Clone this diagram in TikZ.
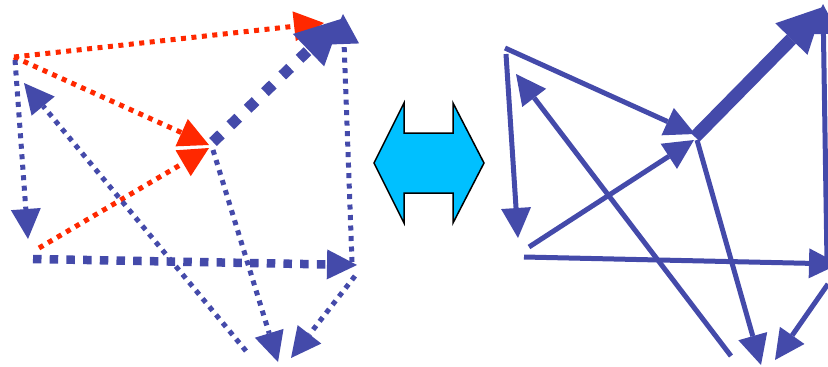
\documentclass[tikz,border=0pt]{standalone}
\usetikzlibrary{arrows.meta}
\definecolor{eblue}{RGB}{68,74,170}
\definecolor{ered}{RGB}{255,40,0}
\definecolor{ecyan}{RGB}{0,192,255}
\tikzset{
  tipn/.style={-{Triangle[length=30pt,width=30pt,line width=0pt]}},
  tipbig/.style={-{Triangle[length=45pt,width=45pt,line width=0pt]}},
  reddot/.style={ered,line width=5pt,line cap=butt,dash pattern=on 5pt off 5.5pt,tipn},
  bluedot/.style={eblue,line width=5pt,line cap=butt,dash pattern=on 5pt off 5.5pt,tipn},
  bluethickdot/.style={eblue,line width=8.5pt,line cap=butt,dash pattern=on 8.5pt off 8.2pt,tipn},
  bluediamond/.style={eblue,line width=11pt,line cap=butt,dash pattern=on 11pt off 13pt,tipbig},
  bluesolid/.style={eblue,line width=5pt,line cap=butt,tipn},
  bluefat/.style={eblue,line width=13pt,line cap=butt,tipbig},
  swap/.style={fill=ecyan,draw=black,line width=1.5pt,line join=miter}
}
\begin{document}
\begin{tikzpicture}[x=1pt,y=-1pt]
\useasboundingbox (0,0) rectangle (828,367);
% ---------- left graph ----------
\coordinate (aB) at (14,57);  \coordinate (tB) at (324,23);
\coordinate (aC) at (14,57);  \coordinate (tC) at (209,145);
\coordinate (dC) at (39,248); \coordinate (tC2) at (209,148);
\coordinate (cB) at (213,142); \coordinate (tB2) at (341,19);
\coordinate (aD) at (15,60);  \coordinate (tD) at (28,239);
\coordinate (dE) at (33,259); \coordinate (tE) at (357,265);
\coordinate (eB) at (352,262); \coordinate (tB3) at (343,14);
\coordinate (cF) at (213,150); \coordinate (tF) at (278,362);
\coordinate (eF) at (355,276); \coordinate (tF2) at (291,358);
\coordinate (fA) at (246,351); \coordinate (tA) at (24,83);
\draw[reddot] (aB) -- (tB);
\draw[reddot] (aC) -- (tC);
\draw[reddot] (dC) -- (tC2);
\draw[bluedot] (aD) -- (tD);
\draw[bluedot] (eB) -- (tB3);
\draw[bluedot] (cF) -- (tF);
\draw[bluedot] (eF) -- (tF2);
\draw[bluedot] (fA) -- (tA);
\draw[bluethickdot] (dE) -- (tE);
\draw[bluediamond] (cB) -- (tB2);
% ---------- double arrow ----------
\draw[swap] (374,163) -- (404,103) -- (404,133) -- (453,133) -- (453,103)
  -- (484,163) -- (453,223) -- (453,193) -- (404,193) -- (404,223) -- cycle;
% ---------- right graph ----------
\coordinate (rAC) at (505,48);  \coordinate (rtC) at (695,134);
\coordinate (rAD) at (506,54);  \coordinate (rtD) at (518,238);
\coordinate (rDC) at (529,247); \coordinate (rtC2) at (694,140);
\coordinate (rCB) at (695,137); \coordinate (rtB) at (823,7);
\coordinate (rEB) at (827,262); \coordinate (rtB2) at (823,4);
\coordinate (rDE) at (524,257); \coordinate (rtE) at (839,264);
\coordinate (rCF) at (697,140); \coordinate (rtF) at (761,365);
\coordinate (rEF) at (828,284); \coordinate (rtF2) at (775,360);
\coordinate (rFA) at (731,356); \coordinate (rtA) at (516,74);
\draw[bluesolid] (rAC) -- (rtC);
\draw[bluesolid] (rAD) -- (rtD);
\draw[bluesolid] (rDC) -- (rtC2);
\draw[bluesolid] (rEB) -- (rtB2);
\draw[bluesolid] (rDE) -- (rtE);
\draw[bluesolid] (rCF) -- (rtF);
\draw[bluesolid] (rEF) -- (rtF2);
\draw[bluesolid] (rFA) -- (rtA);
\draw[bluefat] (rCB) -- (rtB);
\end{tikzpicture}
\end{document}
